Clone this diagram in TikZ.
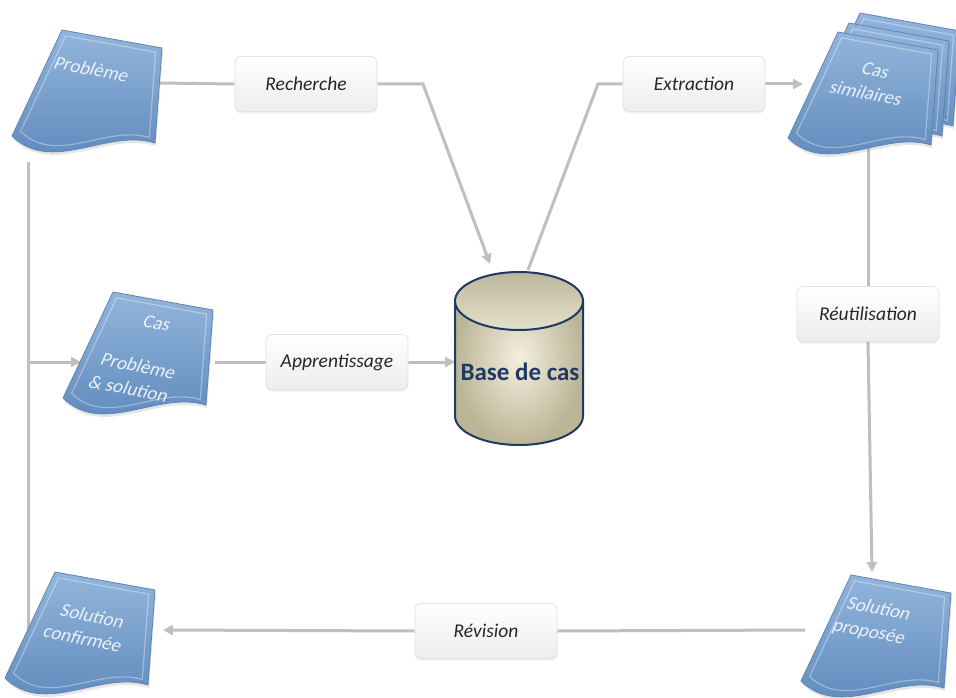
\documentclass[tikz,border=0pt]{standalone}
\usepackage{fontspec}
\setmainfont{Carlito}
\usetikzlibrary{arrows.meta,shadows,backgrounds}
\definecolor{conngray}{HTML}{BFBFBF}
\definecolor{labborder}{HTML}{E2E2E2}
\definecolor{labfill}{HTML}{EDEDED}
\definecolor{labtext}{HTML}{262626}
\definecolor{doctop}{HTML}{93B5DC}
\definecolor{docbot}{HTML}{5A86B9}
\definecolor{docedge}{HTML}{5E86B4}
\definecolor{doctxt}{HTML}{EAF1FA}
\definecolor{cylin}{HTML}{F4F0DE}
\definecolor{cylout}{HTML}{BBB497}
\definecolor{cyltop}{HTML}{BDB69B}
\definecolor{cylbot}{HTML}{E6E1CC}
\definecolor{navy}{HTML}{1F3A5F}
\definecolor{basetxt}{HTML}{1F3864}
\tikzset{
  docshape/.style={draw=docedge, line width=0.8pt, top color=doctop, bottom color=docbot,
    drop shadow={opacity=0.2, shadow xshift=1pt, shadow yshift=-3pt}},
  docbevel/.style={draw=white, line width=1.2pt, opacity=0.35},
  docu/.pic={
    \path[docshape] (0,0) -- (100,18) -- (93,113) .. controls (45,98) and (-10,145) .. (-50,106) -- cycle;
    \begin{scope}[shift={(36,59)},scale=0.9,shift={(-36,-59)}]
      \draw[docbevel] (0,0) -- (100,18) -- (93,113) .. controls (45,98) and (-10,145) .. (-50,106) -- cycle;
    \end{scope}
  },
  conn/.style={draw=conngray, line width=3pt},
  arr/.style={conn, -{Triangle[length=10pt,width=10pt]}},
  lab/.style={rounded corners=6pt, draw=labborder, line width=0.8pt, top color=white, bottom color=labfill,
    minimum width=142pt, minimum height=55pt, inner sep=0pt,
    font=\fontsize{19.5}{22}\selectfont\itshape, text=labtext,
    drop shadow={opacity=0.12, shadow xshift=0pt, shadow yshift=-2pt}},
  doctext/.style={text=doctxt, font=\fontsize{19}{24}\selectfont, rotate=-11, xslant=0.22, align=center, inner sep=0pt},
}
\begin{document}
\begin{tikzpicture}[x=1pt,y=-1pt]
\useasboundingbox (0,0) rectangle (956,698);

% documents
\pic (prob) at (62,30) {docu};
\pic (cas) at (113,292) {docu};
\pic (simc) at (860,13) {docu};
\pic (simb) at (849,23) {docu};
\pic (sim) at (838,32) {docu};
\pic (conf) at (55,572) {docu};
\pic (prop) at (851,575) {docu};

\node[doctext] (tprob) at (92,69) {Problème};
\node[doctext] (tcas) at (143,356) {Cas\\[22pt]Problème\\\& solution};
\node[doctext] (tsim) at (871,82) {Cas\\similaires};
\node[doctext] (tconf) at (88,627) {Solution\\confirmée};
\node[doctext] (tprop) at (874,621) {Solution\\proposée};

% labels
\node[lab] (rech) at (306,84) {Recherche};
\node[lab] (extr) at (694,84) {Extraction};
\node[lab] (appr) at (337,362) {Apprentissage};
\node[lab] (reut) at (868,314) {Réutilisation};
\node[lab] (revi) at (486,631) {Révision};

% cylinder
\shade[inner color=cylin, outer color=cylout]
  (455,301) -- (455,416) .. controls (455,432) and (484,445) .. (519,445)
  .. controls (554,445) and (583,432) .. (583,416) -- (583,301)
  .. controls (583,285) and (554,272) .. (519,272) .. controls (484,272) and (455,285) .. (455,301) -- cycle;
\path[top color=cyltop, bottom color=cylbot]
  (455,301) .. controls (455,285) and (484,272) .. (519,272) .. controls (554,272) and (583,285) .. (583,301)
  .. controls (583,317) and (554,330) .. (519,330) .. controls (484,330) and (455,317) .. (455,301) -- cycle;
\draw[navy, line width=2pt, line join=round]
  (455,301) -- (455,416) .. controls (455,432) and (484,445) .. (519,445)
  .. controls (554,445) and (583,432) .. (583,416) -- (583,301)
  .. controls (583,285) and (554,272) .. (519,272) .. controls (484,272) and (455,285) .. (455,301)
  .. controls (455,317) and (484,330) .. (519,330) .. controls (554,330) and (583,317) .. (583,301);
\node[font=\fontsize{25}{28}\selectfont\bfseries, text=basetxt] (base) at (520,372) {Base de cas};

% connection points
\coordinate (prob-e) at (158,83);
\coordinate (k1) at (423,84);
\coordinate (base-n1) at (490,264);
\coordinate (base-n2) at (528,270);
\coordinate (k2) at (598,84);
\coordinate (sim-w) at (803,84);
\coordinate (sim-s) at (866,140);
\coordinate (prop-n) at (872,572);
\coordinate (prop-w) at (805,630);
\coordinate (conf-e) at (163,630);
\coordinate (lt) at (28,162);
\coordinate (lb) at (28,655);
\coordinate (lm) at (28,362);
\coordinate (cas-w) at (81,362);
\coordinate (cas-e) at (215,362);
\coordinate (base-w) at (455,362);

\begin{scope}[on background layer]
  \fill[white] (0,0) rectangle (956,698);
  \draw[conn] (prob-e) -- (rech.west);
  \draw[arr] (rech.east) -- (k1) -- (base-n1);
  \draw[conn] (base-n2) -- (k2) -- (extr.west);
  \draw[arr] (extr.east) -- (sim-w);
  \draw[conn] (sim-s) -- (sim-s -| reut.north) -- (reut.north);
  \draw[arr] (reut.south) -- (prop-n);
  \draw[conn] (prop-w) -- (revi.east);
  \draw[arr] (revi.west) -- (conf-e);
  \draw[conn] (lt) -- (lb);
  \draw[arr] (lm) -- (cas-w);
  \draw[conn] (cas-e) -- (appr.west);
  \draw[arr] (appr.east) -- (base-w);
\end{scope}
\end{tikzpicture}
\end{document}
